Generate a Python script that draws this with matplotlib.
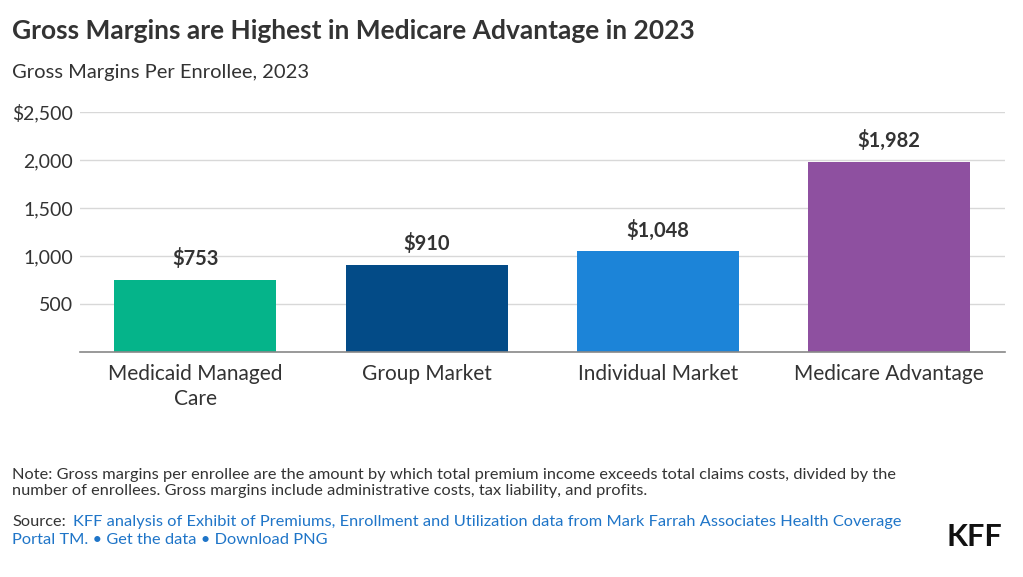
import matplotlib.pyplot as plt

categories = ["Medicaid Managed\nCare", "Group Market", "Individual Market", "Medicare Advantage"]
values = [753, 910, 1048, 1982]
bar_labels = ["$753", "$910", "$1,048", "$1,982"]
colors = ["#05B48A", "#034B87", "#1C84D8", "#8E50A0"]
yticks = [500, 1000, 1500, 2000, 2500]
ytick_labels = ["500", "1,000", "1,500", "2,000", "$2,500"]

plt.rcParams['font.family'] = ['Lato', 'DejaVu Sans']
txt = "#333333"

fig = plt.figure(figsize=(10.23, 5.77), dpi=100)
ax = fig.add_axes([0.078, 0.39, 0.904, 0.416])

x = range(len(values))
ax.bar(x, values, width=0.7, color=colors, zorder=2)
for i, v in enumerate(values):
    ax.text(i, v + 110, bar_labels[i], ha='center', va='bottom', fontsize=14.5,
            fontweight='bold', color=txt, zorder=3)

ax.set_xlim(-0.5, 3.5)
ax.set_ylim(0, 2500)
ax.set_yticks(yticks)
ax.set_yticklabels(ytick_labels, fontsize=14, color=txt)
ax.set_xticks(list(x))
ax.set_xticklabels(categories, fontsize=15, color=txt, linespacing=1.3)
ax.tick_params(axis='both', length=0)
ax.tick_params(axis='y', pad=5)
ax.tick_params(axis='x', pad=9)
for lab in ax.get_yticklabels():
    lab.set_horizontalalignment('right')
ax.grid(axis='y', color='#d8d8d8', linewidth=1, zorder=0)
for s in ['top', 'right', 'left']:
    ax.spines[s].set_visible(False)
ax.spines['bottom'].set_color('#888888')
ax.spines['bottom'].set_linewidth(1.2)
ax.spines['bottom'].set_zorder(3)

fig.text(0.012, 0.946, "Gross Margins are Highest in Medicare Advantage in 2023",
         fontsize=19, fontweight='bold', color=txt, va='center')
fig.text(0.012, 0.875, "Gross Margins Per Enrollee, 2023", fontsize=14.5, color=txt, va='center')

fig.text(0.012, 0.163, "Note: Gross margins per enrollee are the amount by which total premium income exceeds total claims costs, divided by the\n"
         "number of enrollees. Gross margins include administrative costs, tax liability, and profits.",
         fontsize=11.8, color=txt, va='center', linespacing=1.25)
fig.text(0.012, 0.096, "Source:", fontsize=11.8, color=txt, va='center')
link = "#1F75C8"
fig.text(0.071, 0.096, "KFF analysis of Exhibit of Premiums, Enrollment and Utilization data from Mark Farrah Associates Health Coverage",
         fontsize=11.8, color=link, va='center')
fig.text(0.012, 0.064, "Portal TM. \u2022 Get the data \u2022 Download PNG", fontsize=11.8, color=link, va='center')
fig.text(0.98, 0.069, "KFF", fontsize=22, fontweight='bold', color='#111111', ha='right', va='center')

fig.savefig("out.png", dpi=100)
